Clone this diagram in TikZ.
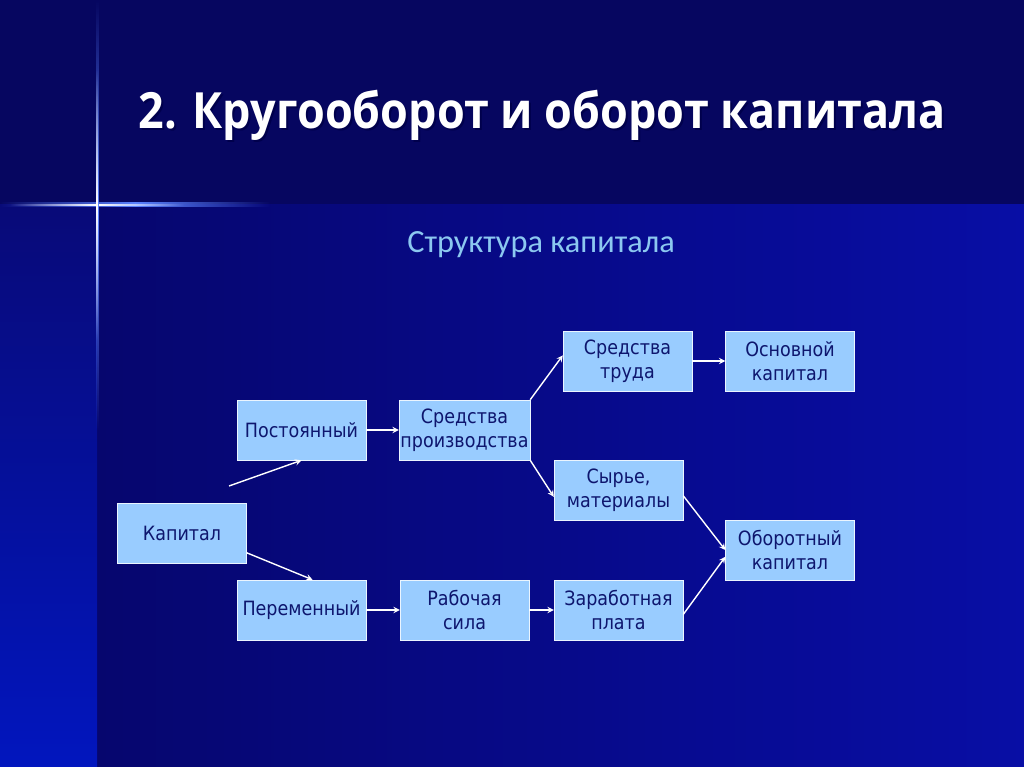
\documentclass[tikz,border=0pt]{standalone}
\usepackage{fontspec}
\setmainfont[FakeStretch=0.89]{DejaVu Sans}
\newfontfamily\slidefont{Carlito}
\newfontfamily\headfont[FakeStretch=0.9]{Open Sans}
\usetikzlibrary{arrows,fadings}

\definecolor{bandtop}{RGB}{6,6,96}
\definecolor{bandlowL}{RGB}{6,6,110}
\definecolor{bandlowR}{RGB}{8,14,165}
\definecolor{stripT}{RGB}{8,10,120}
\definecolor{stripB}{RGB}{2,22,190}
\definecolor{boxblue}{RGB}{153,204,255}
\definecolor{boxtext}{RGB}{14,22,110}
\definecolor{subcyan}{RGB}{140,200,240}
\definecolor{flare}{RGB}{90,130,255}

\tikzfading[name=glow across,left color=transparent!100,right color=transparent!100,
  middle color=transparent!0]
\tikzfading[name=glow down,top color=transparent!100,bottom color=transparent!100,
  middle color=transparent!0]

\begin{document}
\begin{tikzpicture}
    [
      x=0.025cm,y=-0.025cm,
      box/.style={draw=white!80!boxblue,fill=boxblue,rectangle,
        minimum width=3.22cm,minimum height=1.5cm,inner sep=1pt,
        text=boxtext,align=center,font=\fontsize{14}{17}\selectfont},
      link/.style={-stealth,line width=1pt,draw=white},
      heading/.style={font=\headfont\bfseries\fontsize{35.5}{40}\selectfont}
    ]

    % slide background
    \useasboundingbox (0,0) rectangle (1024,767);
    \fill [bandtop] (0,0) rectangle (1024,205);
    \shade [left color=bandlowL,right color=bandlowR] (97,205) rectangle (1024,767);
    \shade [top color=stripT,bottom color=stripB] (0,205) rectangle (97,767);
    % star flare
    \fill [flare,path fading=glow across] (0,202.5) rectangle (270,207.5);
    \fill [white,path fading=glow across] (10,204) rectangle (184,206);
    \fill [flare,path fading=glow down] (95.5,0) rectangle (99,430);
    \fill [white,path fading=glow down] (96.3,70) rectangle (98.2,340);

    \node at (544,117) [heading,text=black!70!blue] (shadow) {2. Кругооборот и оборот капитала};
    \node at (542,115) [heading,text=white] (title) {2. Кругооборот и оборот капитала};
    \node at (541,245) [text=subcyan,font=\slidefont\fontsize{23}{26}\selectfont]
      (subtitle) {Структура капитала};

    \node at (182,533) [box] (capital) {Капитал};
    \node at (301.5,430) [box] (constant) {Постоянный};
    \node at (301.5,610) [box] (variable) {Переменный};
    \node at (464.5,430) [box] (means) {Средства\\производства};
    \node at (464.5,610) [box] (labour) {Рабочая\\сила};
    \node at (627.5,361) [box] (tools) {Средства\\труда};
    \node at (618.5,490) [box] (materials) {Сырье,\\материалы};
    \node at (618.5,610) [box] (wages) {Заработная\\плата};
    \node at (790,361) [box] (fixed) {Основной\\капитал};
    \node at (790,550) [box] (circulating) {Оборотный\\капитал};

    \coordinate (split) at (229,486);

    \draw [link] (split) -- (constant.south);
    \draw [link] (capital.-17) -- (variable.70);
    \draw [link] (constant) -- (means);
    \draw [link] (variable) -- (labour);
    \draw [link] (means.north east) -- (tools.175);
    \draw [link] (means.south east) -- (materials.186);
    \draw [link] (tools) -- (fixed);
    \draw [link] (labour) -- (wages);
    \draw [link] (materials.-5) -- (circulating.west);
    \draw [link] (wages.-4) -- (circulating.186);
  \end{tikzpicture}
\end{document}
